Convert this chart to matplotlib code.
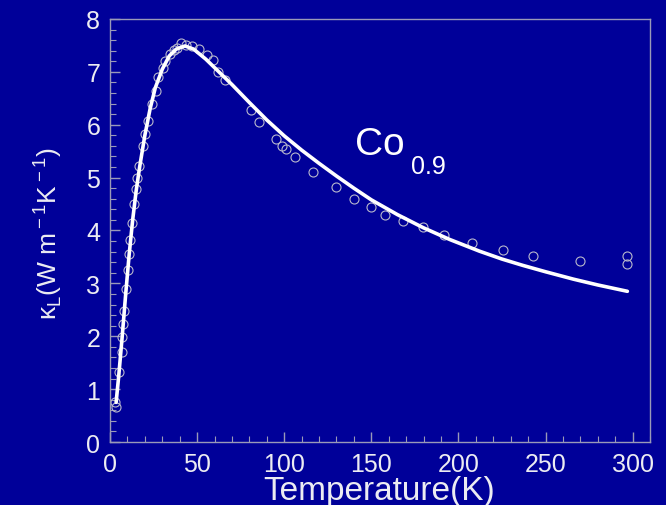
import numpy as np
import matplotlib
matplotlib.use('Agg')
import matplotlib.pyplot as plt
from matplotlib.ticker import MultipleLocator

plt.rcParams['font.family'] = ['Liberation Sans', 'DejaVu Sans']
plt.rcParams['mathtext.fontset'] = 'custom'
plt.rcParams['mathtext.rm'] = 'Liberation Sans'

# measured lattice thermal conductivity (open circles)
temp_exp = [3.0, 3.4, 5.3, 6.7, 7.0, 7.3, 8.1, 9.3, 10.2, 11.0, 11.5, 12.7,
            13.9, 14.9, 15.7, 16.8, 18.7, 20.0, 22.0, 24.0, 26.4, 27.7,
            30.5, 31.6, 34.4, 36.5, 38.5, 41.0, 43.5, 47.0, 51.0, 55.5,
            59.0, 62.0, 66.0, 80.7, 85.6, 95.0, 98.5, 101.0, 106.0, 116.6,
            130.0, 140.0, 149.6, 158.0, 168.0, 179.5, 191.7, 208.0, 225.5,
            243.0, 269.7, 296.6, 297.0]
kappa_exp = [0.75, 0.66, 1.33, 1.71, 1.98, 2.23, 2.47, 2.89, 3.26, 3.55,
             3.82, 4.14, 4.50, 4.78, 5.00, 5.22, 5.60, 5.82, 6.07, 6.39,
             6.64, 6.90, 7.08, 7.20, 7.33, 7.42, 7.46, 7.54, 7.50, 7.49,
             7.43, 7.32, 7.23, 6.99, 6.85, 6.28, 6.05, 5.73, 5.60, 5.54,
             5.39, 5.10, 4.82, 4.59, 4.44, 4.29, 4.18, 4.06, 3.91, 3.77,
             3.63, 3.52, 3.42, 3.36, 3.52]

# model fit (solid line)
temp_fit = [3.5, 5, 7, 9, 11, 13, 15, 17, 20, 23, 26, 30, 34, 38, 43, 48,
            55, 60, 65, 70, 80, 90, 100, 110, 120, 130, 140, 150, 165, 180,
            195, 212, 225, 237, 250, 266, 280, 297]
kappa_fit = [0.75, 1.25, 2.0, 2.8, 3.55, 4.2, 4.75, 5.2, 5.8, 6.3, 6.7,
             7.05, 7.3, 7.43, 7.49, 7.43, 7.24, 7.08, 6.92, 6.76, 6.42,
             6.09, 5.79, 5.52, 5.27, 5.03, 4.80, 4.58, 4.30, 4.05, 3.83,
             3.61, 3.46, 3.34, 3.22, 3.08, 2.97, 2.85]

bg = '#000099'
fg = '#ececf2'
edge = '#9a9ab8'

fig = plt.figure(figsize=(6.66, 5.06), dpi=100, facecolor=bg)
ax = fig.add_axes([0.1652, 0.1245, 0.8108, 0.836], facecolor=bg)

ax.plot(temp_fit, kappa_fit, color='white', lw=2.6, solid_capstyle='round',
        solid_joinstyle='round', zorder=3)
ax.plot(temp_exp, kappa_exp, ls='none', marker='o', ms=6.5, mfc='none',
        mec='#b8b8cc', mew=0.8, zorder=2)

ax.set_xlim(0, 310)
ax.set_ylim(0, 8)
ax.xaxis.set_minor_locator(MultipleLocator(10))
ax.yaxis.set_major_locator(MultipleLocator(1))
ax.yaxis.set_minor_locator(MultipleLocator(0.2))
ax.set_xticks([0, 50, 100, 150, 200, 250, 300])

for s in ax.spines.values():
    s.set_color(edge)
    s.set_linewidth(1.0)

ax.tick_params(which='both', direction='in', colors=edge, labelcolor=fg,
               labelsize=18, top=False, right=False)
ax.tick_params(which='major', length=7, width=1.0, pad=7)
ax.tick_params(which='minor', length=4, width=0.8)

ax.set_xlabel('Temperature(K)', fontsize=24, color=fg)
ax.xaxis.set_label_coords(0.498, -0.078)
ax.set_ylabel('κ$_{\\rm L}$(W m$^{\\rm -1}$K$^{\\rm -1}$)', fontsize=19,
              color=fg)
ax.yaxis.set_label_coords(-0.085, 0.494)

fig.text(355 / 666, 1 - 155 / 506, 'Co', fontsize=28, color='white',
         ha='left', va='baseline')
fig.text(411 / 666, 1 - 174 / 506, '0.9', fontsize=18, color='white',
         ha='left', va='baseline')

fig.savefig('out.png', dpi=100, facecolor=bg)
